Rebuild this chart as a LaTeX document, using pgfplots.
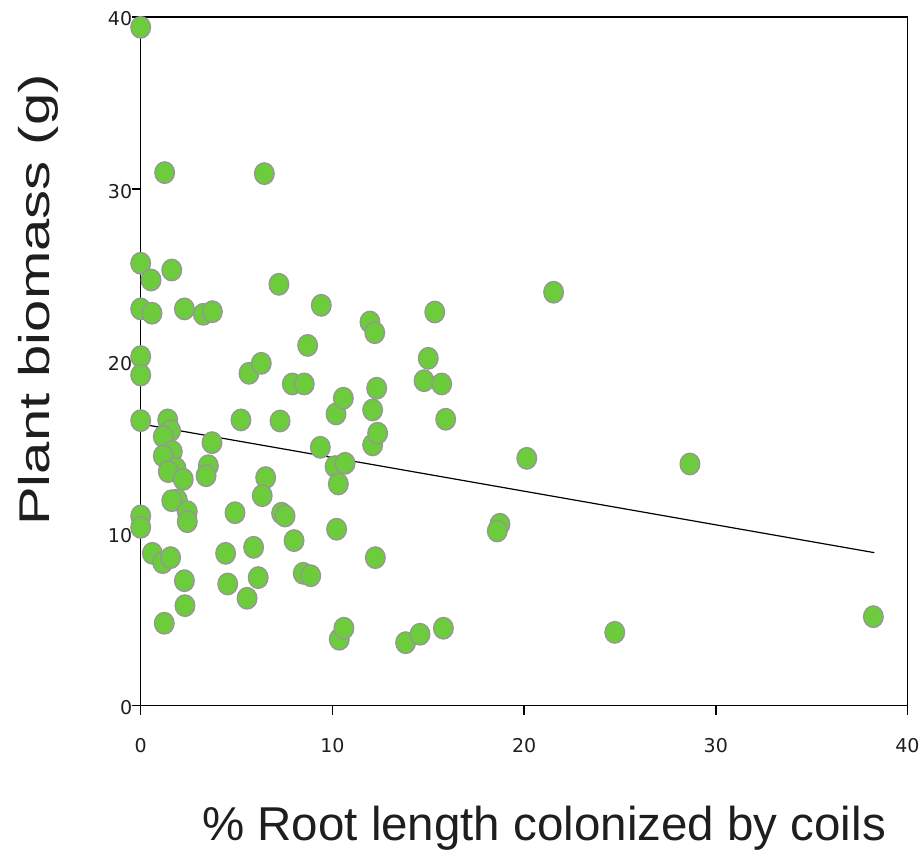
\documentclass[border=0pt]{standalone}
\usepackage{pgfplots}
\pgfplotsset{compat=1.18}
\usepackage{fontspec}
\setmainfont{Liberation Sans}
\newfontfamily\tickfont{DejaVu Sans}
\definecolor{ptgreen}{RGB}{108,204,60}
\definecolor{ptedge}{RGB}{150,150,150}
\definecolor{txt}{RGB}{30,30,30}
\pgfplotstableread{
x y
0 39.4
1.25 30.96
6.45 30.90
0 25.69
0.54 24.72
1.62 25.30
7.21 24.47
0 23.04
0.59 22.79
2.28 23.04
3.27 22.73
3.74 22.88
9.42 23.25
11.96 22.28
12.21 21.66
8.71 20.92
15.34 22.86
21.54 24.01
0 20.27
0 19.20
0 16.55
1.41 16.59
1.56 15.97
1.18 15.62
1.65 14.75
1.18 14.50
1.84 13.78
1.44 13.59
2.22 13.14
1.91 11.94
1.62 11.90
2.43 11.26
2.43 10.68
0 11.01
0 10.35
0.61 8.84
1.15 8.30
1.56 8.59
2.28 7.25
2.31 5.80
1.23 4.78
3.72 15.27
3.53 13.93
3.41 13.35
5.23 16.59
7.27 16.53
5.65 19.30
6.29 19.88
7.91 18.68
8.53 18.68
9.37 15.00
10.19 16.94
10.57 17.85
12.10 17.17
12.31 18.43
12.10 15.14
12.36 15.82
10.14 13.88
10.66 14.07
10.31 12.87
4.92 11.20
6.52 13.24
6.34 12.19
7.35 11.17
7.53 11.01
8.00 9.58
4.43 8.84
5.89 9.19
4.54 7.06
6.13 7.43
5.55 6.23
8.48 7.68
8.87 7.54
10.22 10.24
12.24 8.59
10.36 3.85
10.60 4.49
13.82 3.65
14.57 4.14
15.79 4.49
15.00 20.17
14.78 18.87
15.70 18.68
15.91 16.63
18.74 10.53
18.60 10.14
20.14 14.36
28.65 14.03
24.73 4.25
38.22 5.16
}\biomass
\begin{document}
\begin{tikzpicture}
\useasboundingbox (-140.7pt,-145.5pt) rectangle (783.3pt,705.5pt);
\begin{axis}[
  at={(0pt,0pt)}, anchor=south west,
  scale only axis,
  width=766.8pt, height=688.5pt,
  xmin=0, xmax=40, ymin=0, ymax=40,
  xtick={0,10,20,30,40}, ytick={0,10,20,30,40},
  tick pos=left, tick align=outside,
  major tick length=9pt,
  axis line style={black, line width=1.4pt},
  every tick/.style={black, line width=1.4pt},
  clip=false,
  /pgf/number format/assume math mode=true,
  tick label style={font=\tickfont\fontsize{19}{22}\selectfont, text=txt},
  yticklabel style={xshift=4pt, yshift=-2pt},
  xticklabel style={yshift=-20pt},
  xlabel={\% Root length colonized by coils},
  ylabel={\scalebox{1.35}[1]{Plant biomass (g)}},
  xlabel style={at={(axis description cs:0.526,-0.1954)}, anchor=base,
    font=\fontsize{47.5}{50}\selectfont, text=txt},
  ylabel style={at={(axis description cs:-0.1339,0.589)}, anchor=center,
    font=\fontsize{43}{46}\selectfont, text=txt},
]
\addplot[only marks, mark=*, mark size=10.8pt,
  mark options={xscale=0.91, fill=ptgreen, draw=ptedge, line width=1.3pt}]
  table[x=x, y=y] {\biomass};
\addplot[black, line width=1.2pt] coordinates {(0,16.36) (38.27,8.88)};
\end{axis}
\end{tikzpicture}
\end{document}
